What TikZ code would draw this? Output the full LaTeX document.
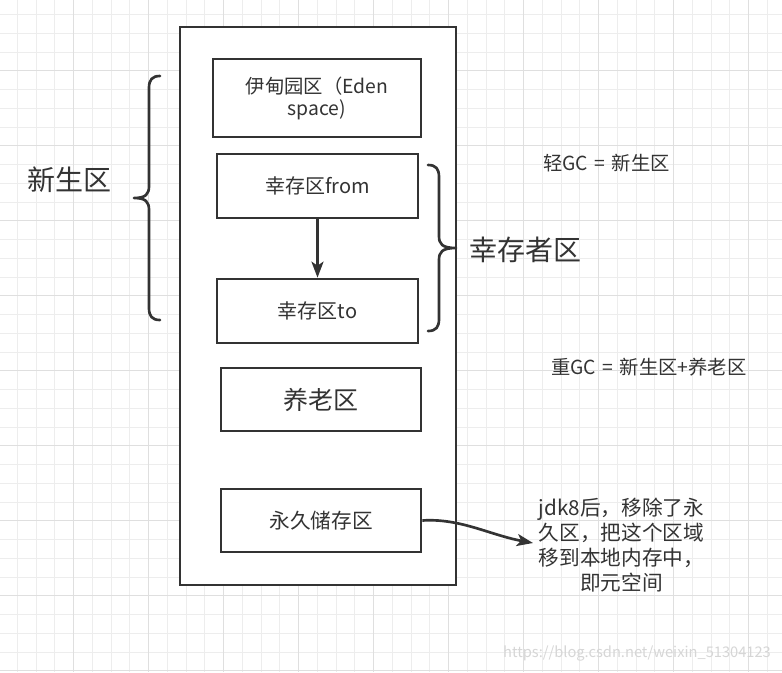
\documentclass[tikz,border=0pt]{standalone}
\usepackage{fontspec}
\setmainfont{Noto Sans CJK SC}
\usetikzlibrary{arrows.meta}
\definecolor{linec}{HTML}{333333}
\definecolor{txtc}{HTML}{333333}
\definecolor{gridminor}{HTML}{EDEDED}
\definecolor{gridmajor}{HTML}{DFDFDF}
\definecolor{wmark}{HTML}{D6D6D6}
\begin{document}
\begin{tikzpicture}[x=0.75pt,y=-0.75pt,
  box/.style={draw=linec,line width=2pt,fill=white,text=txtc,inner sep=0pt,align=center},
  lbl/.style={text=txtc,inner sep=0pt,align=center},
  bracepath/.style={draw=linec,line width=2pt,line cap=round,line join=round},
  conn/.style={draw=linec,line width=2pt,-{Stealth[length=12pt,width=9pt,inset=3pt]}}]
\useasboundingbox (0,0) rectangle (782,672);
\fill[white] (0,0) rectangle (782,672);
% grid
\foreach \i in {0,...,41}{\pgfmathsetmacro\gx{17.3+18.75*\i}\draw[gridminor,line width=0.8pt] (\gx,0) -- (\gx,672);}
\foreach \j in {0,...,35}{\pgfmathsetmacro\gy{14.6+18.75*\j}\draw[gridminor,line width=0.8pt] (0,\gy) -- (782,\gy);}
\foreach \i in {3,7,...,39}{\pgfmathsetmacro\gx{17.3+18.75*\i}\draw[gridmajor,line width=0.8pt] (\gx,0) -- (\gx,672);}
\foreach \j in {3,7,...,35}{\pgfmathsetmacro\gy{14.6+18.75*\j}\draw[gridmajor,line width=0.8pt] (0,\gy) -- (782,\gy);}
% outer container
\node[box,minimum width=207pt,minimum height=418.5pt] (heap) at (318,306) {};
% boxes
\node[box,minimum width=156pt,minimum height=58.5pt,font=\fontsize{14.5pt}{16.5pt}\selectfont] (eden) at (317,98) {伊甸园区（Eden\\space)};
\node[box,minimum width=150.75pt,minimum height=48pt,font=\fontsize{15pt}{18pt}\selectfont] (from) at (317.5,186) {幸存区from};
\node[box,minimum width=150.75pt,minimum height=48pt,font=\fontsize{15pt}{18pt}\selectfont] (to) at (317.5,311) {幸存区to};
\node[box,minimum width=150pt,minimum height=47.25pt,font=\fontsize{18.75pt}{22pt}\selectfont] (old) at (321,399.5) {养老区};
\node[box,minimum width=150pt,minimum height=47.25pt,font=\fontsize{15.5pt}{18pt}\selectfont] (perm) at (321,520.5) {永久储存区};
% arrow between survivor spaces
\draw[conn] (from) -- (to);
% left brace (young generation)
\draw[bracepath] (160,76) .. controls (152,76) and (149,80) .. (149,88) -- (149,186)
  .. controls (149,194) and (146,198) .. (134,198)
  .. controls (146,198) and (149,202) .. (149,210) -- (149,308)
  .. controls (149,316) and (152,320) .. (160,320);
\node[lbl,font=\fontsize{21pt}{24pt}\selectfont] (young) at (69,180) {新生区};
% right brace (survivor spaces)
\draw[bracepath] (428,165) .. controls (436,165) and (439,169) .. (439,177) -- (439,236)
  .. controls (439,244) and (442,248) .. (456,248)
  .. controls (442,248) and (439,252) .. (439,260) -- (439,319)
  .. controls (439,327) and (436,331) .. (428,331);
\node[lbl,font=\fontsize{21pt}{24pt}\selectfont] (surv) at (525,250) {幸存者区};
% GC notes
\node[lbl,font=\fontsize{14.5pt}{17pt}\selectfont] (minor) at (606.5,163) {轻GC\,\,=\,\,新生区};
\node[lbl,font=\fontsize{14.5pt}{17pt}\selectfont] (major) at (649,367) {重GC\,\,=\,\,新生区+养老区};
% jdk8 note
\node[lbl,font=\fontsize{15.5pt}{18.75pt}\selectfont] (note) at (621.5,545.5) {jdk8后，移除了永\\久区，把这个区域\\移到本地内存中，\\即元空间};
\coordinate (tip) at (533,543);
\draw[conn] (perm.east) .. controls (460,518) and (490,535) .. (tip);
% watermark
\node[inner sep=0pt,text=wmark,font=\fontsize{11pt}{13pt}\selectfont] (wm) at (637,653) {https://blog.csdn.net/weixin\_51304123};
\end{tikzpicture}
\end{document}
